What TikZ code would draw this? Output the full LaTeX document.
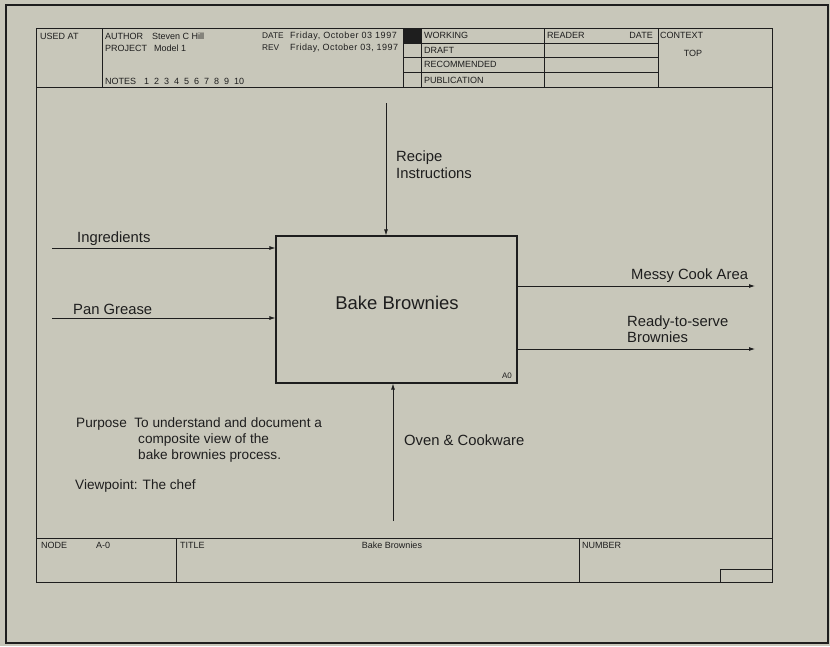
\documentclass[tikz,border=0pt]{standalone}
\usepackage{fontspec}
\setmainfont{Liberation Sans}
\usetikzlibrary{arrows.meta}
\definecolor{paper}{RGB}{200,199,186}
\definecolor{ink}{RGB}{30,30,30}
\tikzset{
  tiny/.style={font=\fontsize{9}{10}\selectfont, text=ink, inner sep=0pt, anchor=west},
  lbl/.style={font=\fontsize{14.8}{16.5}\selectfont, text=ink, inner sep=0pt, anchor=west, align=left},
  ptxt/.style={font=\fontsize{13.6}{16}\selectfont, text=ink, inner sep=0pt, anchor=west, align=left},
  rule/.style={draw=ink, line width=0.8pt},
  arr/.style={draw=ink, line width=0.8pt, -{Latex[length=6pt,width=4pt]}},
  actbox/.style={draw=ink, line width=1.2pt, minimum width=241pt, minimum height=147pt, inner sep=0pt,
     font=\fontsize{18.5}{20}\selectfont, text=ink}
}
\begin{document}
\begin{tikzpicture}[x=1pt,y=-1pt]
\useasboundingbox (0,0) rectangle (830,646);
\fill[paper] (0,0) rectangle (830,646);
% outer border
\draw[ink, line width=1.3pt] (6,5) rectangle (828,643);
% frame
\draw[rule] (36,28) rectangle (772,582);
% header
\draw[rule] (36,87) -- (772,87);
\draw[rule] (102,28) -- (102,87);
\draw[rule] (403,28) -- (403,87);
\draw[rule] (421,28) -- (421,87);
\draw[rule] (544,28) -- (544,87);
\draw[rule] (658,28) -- (658,87);
\draw[rule] (403,43) -- (658,43);
\draw[rule] (403,57) -- (658,57);
\draw[rule] (403,72) -- (658,72);
\fill[ink] (403,28) rectangle (421,43);
\node[tiny] (usedat) at (40,36) {USED AT};
\node[tiny] (author) at (105,36) {AUTHOR};
\node[tiny] (authorv) at (152,36) {Steven C Hill};
\node[tiny] (project) at (105,48) {PROJECT};
\node[tiny] (projectv) at (154,48) {Model 1};
\node[tiny, font=\fontsize{8.3}{10}\selectfont] (date) at (262,36) {DATE};
\node[tiny] (datev) at (290,36) {\addfontfeatures{LetterSpace=6}Friday, October 03 1997};
\node[tiny, font=\fontsize{8.3}{10}\selectfont] (rev) at (262,48) {REV};
\node[tiny] (revv) at (290,48) {\addfontfeatures{LetterSpace=5}Friday, October 03, 1997};
\node[tiny] (notes) at (105,81) {NOTES};
\node[tiny] (notesv) at (144,81) {1\ \ 2\ \ 3\ \ 4\ \ 5\ \ 6\ \ 7\ \ 8\ \ 9\ \ 10};
\node[tiny] (working) at (424,35.5) {WORKING};
\node[tiny] (draft) at (424,50) {DRAFT};
\node[tiny] (recommended) at (424,64.5) {RECOMMENDED};
\node[tiny] (publication) at (424,80) {PUBLICATION};
\node[tiny] (reader) at (547,35.5) {READER};
\node[tiny, anchor=east] (rdate) at (653,35.5) {DATE};
\node[tiny] (context) at (660,35.5) {CONTEXT};
\node[tiny, anchor=center] (top) at (693,53) {TOP};
% footer
\draw[rule] (36,538) -- (772,538);
\draw[rule] (176,538) -- (176,582);
\draw[rule] (579,538) -- (579,582);
\draw[rule] (720,582) -- (720,569) -- (772,569);
\node[tiny] (nodel) at (41,545) {NODE};
\node[tiny] (nodev) at (96,545) {A-0};
\node[tiny] (titlel) at (180,545) {TITLE};
\node[tiny, anchor=center] (titlev) at (392,545) {Bake Brownies};
\node[tiny] (numberl) at (582,545) {NUMBER};
% activity box
\node[actbox] (fn) at (396.5,309.5) {};
\node[font=\fontsize{18.5}{20}\selectfont, text=ink, inner sep=0pt] (fnlabel) at (397,303) {Bake Brownies};
\node[font=\fontsize{8}{9}\selectfont, text=ink, inner sep=0pt] (a0) at (507,376) {A0};
% inputs
\coordinate (in1) at (52,248);
\coordinate (in2) at (52,318);
\draw[arr] (in1) -- (in1 -| fn.west);
\draw[arr] (in2) -- (in2 -| fn.west);
\node[lbl] (ingr) at (77,239) {Ingredients};
\node[lbl] (pang) at (73,309) {Pan Grease};
% control
\coordinate (ctl) at (386,103);
\draw[arr] (ctl) -- (ctl |- fn.north);
\node[lbl] (recipe) at (396,164.5) {Recipe\\Instructions};
% outputs
\coordinate (out1) at (755,286);
\coordinate (out2) at (755,349);
\draw[arr] (out1 -| fn.east) -- (out1);
\draw[arr] (out2 -| fn.east) -- (out2);
\node[lbl] (messy) at (631,276) {Messy Cook Area};
\node[lbl] (ready) at (627,329) {Ready-to-serve\\Brownies};
% mechanism
\coordinate (mech) at (393,521);
\draw[arr] (mech) -- (mech |- fn.south);
\node[lbl] (oven) at (404,440) {Oven \& Cookware};
% purpose
\node[ptxt] (purpose) at (76,424) {Purpose\ \ To understand and document a};
\node[ptxt] (purpose2) at (138,448) {composite view of the\\bake brownies process.};
\node[ptxt] (viewpoint) at (75,486) {Viewpoint: The chef};
\end{tikzpicture}
\end{document}
